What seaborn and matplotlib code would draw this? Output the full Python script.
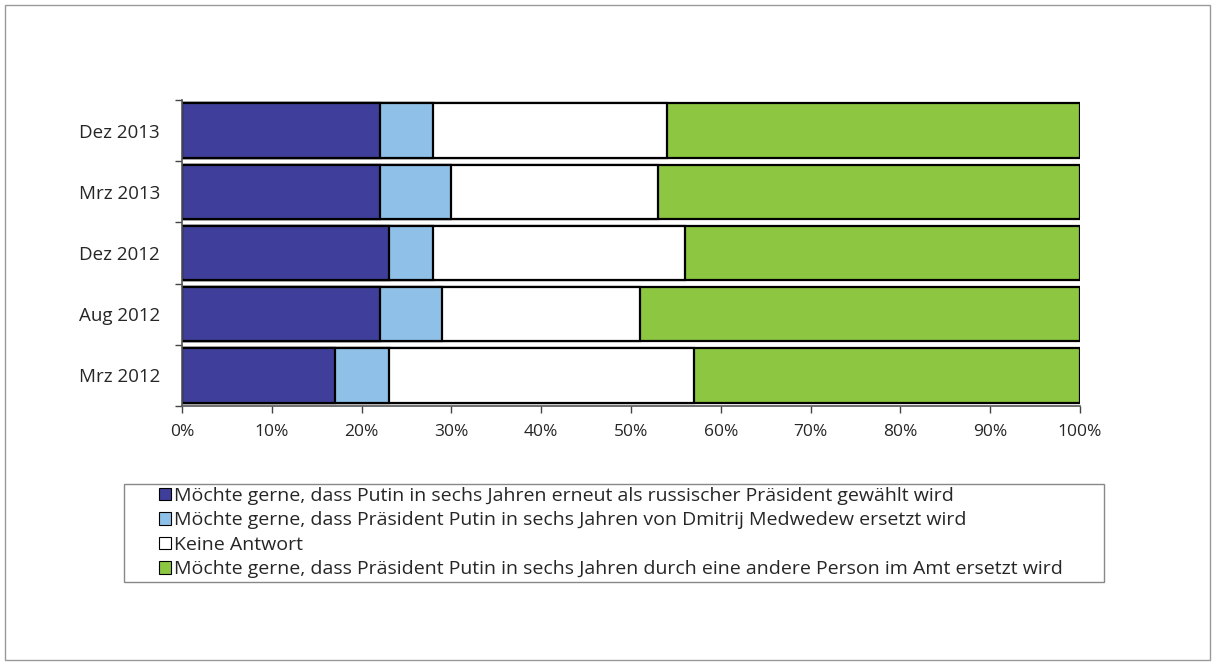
import numpy as np
import pandas as pd
import seaborn as sns
import matplotlib.pyplot as plt
from matplotlib.patches import Rectangle, Patch
from matplotlib.ticker import PercentFormatter

# survey waves, top to bottom as in the chart
waves = ["Dez 2013", "Mrz 2013", "Dez 2012", "Aug 2012", "Mrz 2012"]
wiederwahl = [22, 22, 23, 22, 17]
medwedew = [6, 8, 5, 7, 6]
keine_antwort = [26, 23, 28, 22, 34]
andere = [46, 47, 44, 49, 43]

series_names = [
    "Möchte gerne, dass Putin in sechs Jahren erneut als russischer Präsident gewählt wird",
    "Möchte gerne, dass Präsident Putin in sechs Jahren von Dmitrij Medwedew ersetzt wird",
    "Keine Antwort",
    "Möchte gerne, dass Präsident Putin in sechs Jahren durch eine andere Person im Amt ersetzt wird",
]
colors = ["#3f3f9b", "#8fc1e8", "#ffffff", "#8dc641"]

df = pd.DataFrame(
    {"wave": waves, "s0": wiederwahl, "s1": medwedew, "s2": keine_antwort, "s3": andere}
)
cols = ["s0", "s1", "s2", "s3"]
cum = df[cols].cumsum(axis=1)

sns.set_style("white")
plt.rcParams["font.family"] = ["Open Sans", "DejaVu Sans"]

fig = plt.figure(figsize=(12.15, 6.67), dpi=100)
ax = fig.add_axes([182 / 1215, 1 - 406 / 667, 898 / 1215, 306 / 667])

# stacked bars: draw cumulative totals from the widest down
for i in reversed(range(4)):
    sns.barplot(
        x=cum[cols[i]], y=df["wave"], orient="h", color=colors[i],
        edgecolor="black", linewidth=1.6, width=0.89, saturation=1, ax=ax,
    )

ax.set_xlim(0, 100)
ax.set_ylim(4.5, -0.5)
ax.set_xlabel("")
ax.set_ylabel("")
ax.set_xticks(np.arange(0, 101, 10))
ax.xaxis.set_major_formatter(PercentFormatter(decimals=0))
ax.set_yticks(range(len(waves)))
ax.set_yticklabels(waves)
ax.set_yticks(np.arange(-0.5, 5, 1), minor=True)
ax.tick_params(axis="y", which="major", length=0, labelsize=13.5, pad=16)
ax.tick_params(axis="y", which="minor", length=5, width=1, color="#444444", left=True)
ax.tick_params(axis="x", length=5, width=1, color="#444444", bottom=True, labelsize=12.5, pad=8)
for side in ["top", "right"]:
    ax.spines[side].set_visible(False)
for side in ["left", "bottom"]:
    ax.spines[side].set_color("#555555")
    ax.spines[side].set_linewidth(1.2)

# legend box
fig.patches.append(
    Rectangle((124 / 1215, 1 - 582 / 667), 980 / 1215, 98 / 667,
              transform=fig.transFigure, fill=False, edgecolor="#888888", linewidth=1)
)
handles = [Patch(facecolor=c, edgecolor="black", linewidth=0.8) for c in colors]
fig.legend(
    handles, series_names, loc="upper left", bbox_to_anchor=(157 / 1215, 1 - 485 / 667),
    frameon=False, fontsize=14, handlelength=0.62, handleheight=0.62, handletextpad=0.15,
    labelspacing=0.33, borderpad=0.1, borderaxespad=0,
)

# outer frame
fig.patches.append(
    Rectangle((5 / 1215, 1 - 660 / 667), 1205 / 1215, 655 / 667,
              transform=fig.transFigure, fill=False, edgecolor="#999999", linewidth=1)
)

fig.savefig("out.png", dpi=100)
